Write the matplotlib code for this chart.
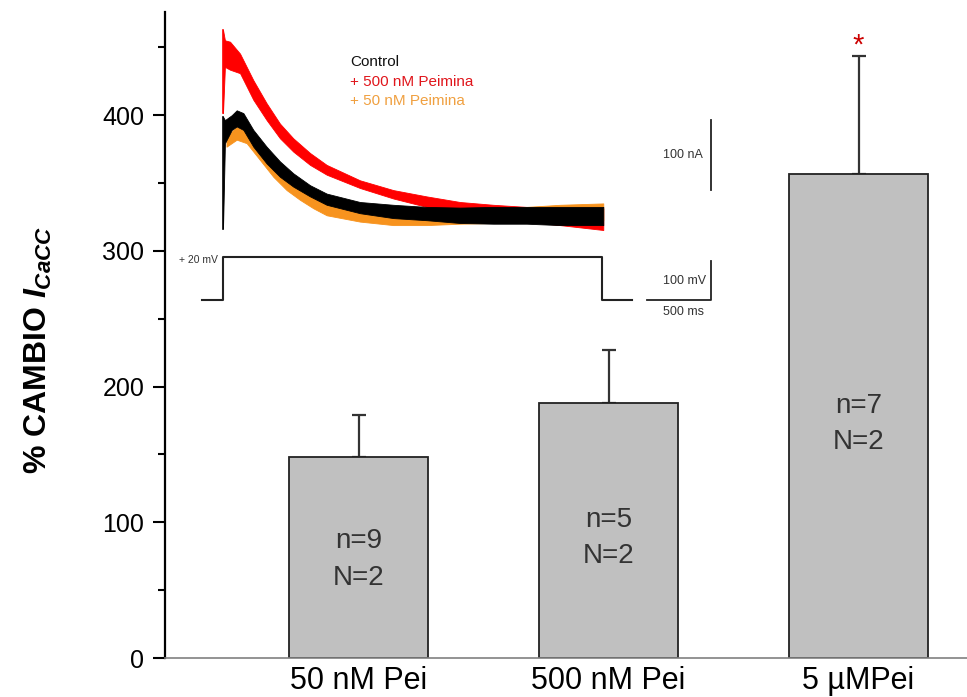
import matplotlib
matplotlib.use("Agg")
import matplotlib.pyplot as plt
from matplotlib.ticker import MultipleLocator

plt.rcParams['font.family'] = ['Liberation Sans', 'DejaVu Sans']
plt.rcParams['mathtext.fontset'] = 'custom'
plt.rcParams['mathtext.it'] = 'Liberation Sans:bold:italic'
plt.rcParams['mathtext.rm'] = 'Liberation Sans:bold'

# Bar data
groups = ["50 nM Pei", "500 nM Pei", "5 µMPei"]
change = [148, 188, 356.5]
sem = [31, 39, 87]
n_cells = ["n=9", "n=5", "n=7"]
n_frogs = ["N=2", "N=2", "N=2"]
signif = ["", "", "*"]

# Inset traces (time in ms, current in nA, upper / lower edge of the noisy band)
t_red = [0, 15, 55, 133, 237, 341, 445, 549, 680, 810, 1070, 1331, 1591, 1852, 2112, 2372, 2633, 2971]
red_hi = [286, 271, 269, 252, 214, 181, 152, 131, 110, 93, 71, 57, 48, 40, 36, 33, 33, 31]
red_lo = [167, 233, 229, 224, 186, 157, 131, 112, 93, 79, 60, 45, 33, 24, 19, 12, 7, 0]

t_blk = [0, 15, 68, 107, 159, 237, 341, 445, 549, 680, 810, 1070, 1331, 1591, 1852, 2112, 2372, 2633, 2971]
blk_hi = [162, 157, 164, 171, 167, 143, 119, 98, 81, 64, 52, 40, 36, 33, 32, 33, 33, 33, 33]
blk_lo = [2, 124, 143, 148, 143, 119, 95, 76, 62, 48, 36, 24, 17, 14, 10, 9, 9, 7, 7]

t_org = [27, 107, 185, 289, 393, 497, 602, 706, 810, 1070, 1331, 1591, 1852, 2112, 2372, 2633, 2971]
org_hi = [133, 148, 140, 117, 95, 76, 62, 48, 38, 24, 19, 19, 24, 29, 33, 36, 38]
org_lo = [119, 129, 124, 100, 76, 57, 43, 31, 21, 12, 7, 7, 9, 10, 12, 14, 14]

# Voltage protocol (ms, mV)
t_step = [-165, 0, 0, 2960, 2960, 3195]
v_step = [-90, -90, 20, 20, -90, -90]

W, H = 967, 697
fig = plt.figure(figsize=(W / 100, H / 100), dpi=100)


def box(x0, y0, x1, y1):
    # pixel box (top-left origin) -> figure fraction rect
    return [x0 / W, 1 - y1 / H, (x1 - x0) / W, (y1 - y0) / H]


ax = fig.add_axes(box(165, 12, 967, 658))
pos = list(range(len(groups)))
ax.errorbar(pos, change, yerr=[[0] * 3, sem], fmt='none', ecolor='#333333',
            elinewidth=1.6, capsize=4.7, capthick=1.6, zorder=1)
ax.bar(pos, change, width=0.556, color='#c0c0c0', edgecolor='#222222',
       linewidth=1.3, zorder=2)

# height (in data units) of the "n=" line inside each bar
label_y = [86, 102, 186]
for i in pos:
    ax.text(i, label_y[i], n_cells[i], ha='center', va='center',
            fontsize=20, color='#333333', zorder=3)
    ax.text(i, label_y[i] - 27, n_frogs[i], ha='center', va='center',
            fontsize=20, color='#333333', zorder=3)
    if signif[i]:
        ax.text(i, change[i] + sem[i] + 8, signif[i], ha='center', va='center',
                fontsize=21, color='#cc0000')

ax.set_xlim(-0.774, 2.434)
ax.set_ylim(0, 476)
ax.set_xticks(pos)
ax.set_xticklabels(groups, fontsize=22)
ax.tick_params(axis='x', length=0, pad=6)
ax.yaxis.set_major_locator(MultipleLocator(100))
ax.yaxis.set_minor_locator(MultipleLocator(50))
ax.tick_params(axis='y', which='major', length=9, width=1.5, labelsize=18, pad=6)
ax.tick_params(axis='y', which='minor', length=5, width=1.5)
for s in ['top', 'right']:
    ax.spines[s].set_visible(False)
ax.spines['left'].set_linewidth(1.6)
ax.spines['bottom'].set_color('#808080')
ax.spines['bottom'].set_linewidth(1.2)

fig.text(38 / W, 1 - 350 / H, r'% CAMBIO $\mathit{I}_{\mathit{CaCC}}$',
         rotation=90, ha='center', va='center', fontsize=23, fontweight='bold')

# Inset: current traces
ms_px = 7.8125
na_px = 1.4286
t0, t1 = (195 - 223) * ms_px, (730 - 223) * ms_px
axi = fig.add_axes(box(195, 20, 730, 240))
axi.set_xlim(t0, t1)
axi.set_ylim((230 - 240) * na_px, (230 - 20) * na_px)
axi.axis('off')
axi.patch.set_alpha(0)
axi.fill_between(t_red, red_lo, red_hi, color='#ff0000', lw=0.6)
axi.fill_between(t_org, org_lo, org_hi, color='#f7931e', lw=0.6)
axi.fill_between(t_blk, blk_lo, blk_hi, color='#000000', lw=0.6)
axi.plot([0, 0], [red_lo[0], red_hi[0]], color='#ff0000', lw=1.2)
axi.plot([0, 0], [blk_lo[0], blk_hi[0]], color='#000000', lw=1.2)
# current scale bar
axi.plot([3812, 3812], [57, 157], color='#222222', lw=1.3)
axi.text(3750, 107, "100 nA", ha='right', va='center', fontsize=9, color='#333333')
axi.text(992, 240, "Control", ha='left', va='center', fontsize=11, color='#111111')
axi.text(992, 211, "+ 500 nM Peimina", ha='left', va='center', fontsize=11, color='#e0161c')
axi.text(992, 184, "+ 50 nM Peimina", ha='left', va='center', fontsize=11, color='#f0a040')

# Inset: voltage protocol
mv_px = 100 / 39
axv = fig.add_axes(box(195, 245, 730, 320))
axv.set_xlim(t0, t1)
axv.set_ylim(-90 - 20 * mv_px, -90 + 55 * mv_px)
axv.axis('off')
axv.patch.set_alpha(0)
axv.plot(t_step, v_step, color='#222222', lw=1.5)
axv.plot([3312, 3812, 3812], [-90, -90, 10], color='#222222', lw=1.3)
axv.text(3773, -40, "100 mV", ha='right', va='center', fontsize=9, color='#333333')
axv.text(3594, -120, "500 ms", ha='center', va='center', fontsize=9, color='#333333')
axv.text(-195, 12, "+ 20 mV", ha='center', va='center', fontsize=7.5, color='#333333')

fig.savefig("out.png", dpi=100)
